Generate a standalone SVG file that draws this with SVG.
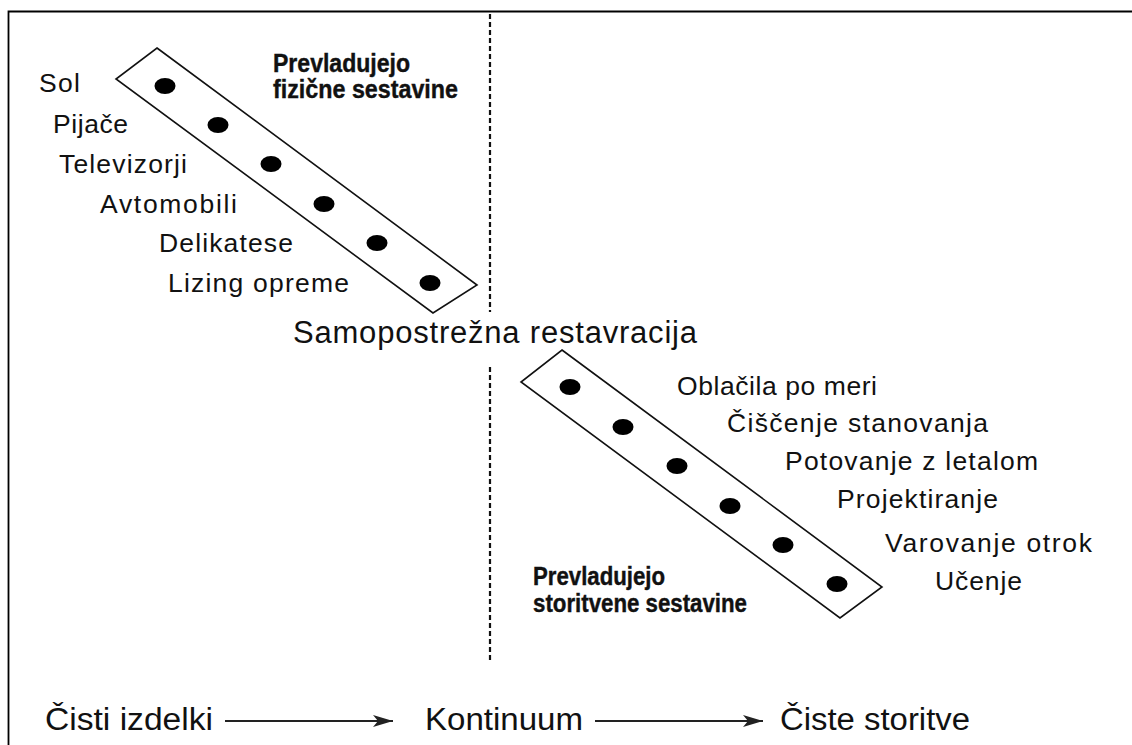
<svg xmlns="http://www.w3.org/2000/svg" width="1132" height="745" viewBox="0 0 1132 745">
<defs>
<style>
.lbl{font-family:"Liberation Sans",Arial,sans-serif;font-size:26.5px;fill:#111}
.big{font-family:"Liberation Sans",Arial,sans-serif;font-size:31px;fill:#111}
.bot{font-family:"Liberation Sans",Arial,sans-serif;font-size:31px;fill:#111}
.bold{font-family:"Liberation Sans",Arial,sans-serif;font-size:25px;font-weight:bold;fill:#111;stroke:#111;stroke-width:0.4}
.band{fill:none;stroke:#111;stroke-width:1.6;stroke-linejoin:miter}
.dot{fill:#000}
.conn{stroke:#222;stroke-width:2.2;fill:none}
.dash{stroke:#111;stroke-width:2.2;stroke-dasharray:5 3;fill:none}
</style>
<marker id="arr" markerUnits="userSpaceOnUse" markerWidth="24" markerHeight="14" refX="20" refY="6" orient="auto">
<path d="M0,0 L20,6 L0,12 L5,6 Z" fill="#222"/>
</marker>
</defs>
<rect width="1132" height="745" fill="#fff"/>
<path d="M8.5,745 V11.5 H1132" fill="none" stroke="#000" stroke-width="1.8"/>

<g id="divider">
<line class="dash" x1="490" y1="14" x2="490" y2="312"/>
<line class="dash" x1="490" y1="367" x2="490" y2="660"/>
</g>

<g id="band-physical">
<polygon class="band" points="157,48 477,285 433,313 116,79"/>
<ellipse class="dot" cx="165" cy="86" rx="10.5" ry="8"/>
<ellipse class="dot" cx="218" cy="125" rx="10.5" ry="8"/>
<ellipse class="dot" cx="271" cy="164" rx="10.5" ry="8"/>
<ellipse class="dot" cx="324" cy="204" rx="10.5" ry="8"/>
<ellipse class="dot" cx="377" cy="243" rx="10.5" ry="8"/>
<ellipse class="dot" cx="430" cy="283" rx="10.5" ry="8"/>
</g>

<g id="band-service">
<polygon class="band" points="562,350 882,587 840,618 521,382"/>
<ellipse class="dot" cx="570" cy="387" rx="10.5" ry="8"/>
<ellipse class="dot" cx="623" cy="427" rx="10.5" ry="8"/>
<ellipse class="dot" cx="677" cy="466" rx="10.5" ry="8"/>
<ellipse class="dot" cx="730" cy="506" rx="10.5" ry="8"/>
<ellipse class="dot" cx="783" cy="545" rx="10.5" ry="8"/>
<ellipse class="dot" cx="837" cy="584" rx="10.5" ry="8"/>
</g>

<g id="labels-physical">
<text class="lbl" x="39" y="92" textLength="41" lengthAdjust="spacing">Sol</text>
<text class="lbl" x="53" y="133" textLength="75" lengthAdjust="spacing">Pijače</text>
<text class="lbl" x="59" y="173" textLength="128" lengthAdjust="spacing">Televizorji</text>
<text class="lbl" x="100" y="213" textLength="137" lengthAdjust="spacing">Avtomobili</text>
<text class="lbl" x="159" y="252" textLength="134" lengthAdjust="spacing">Delikatese</text>
<text class="lbl" x="168" y="292" textLength="181" lengthAdjust="spacing">Lizing opreme</text>
</g>

<g id="note-physical">
<text class="bold" x="273" y="72" textLength="137" lengthAdjust="spacingAndGlyphs">Prevladujejo</text>
<text class="bold" x="273" y="98" textLength="185" lengthAdjust="spacingAndGlyphs">fizične sestavine</text>
</g>

<g id="label-middle">
<text class="big" x="293" y="343" textLength="404" lengthAdjust="spacing">Samopostrežna restavracija</text>
</g>

<g id="labels-service">
<text class="lbl" x="677" y="395" textLength="200" lengthAdjust="spacing">Oblačila po meri</text>
<text class="lbl" x="727" y="432" textLength="261" lengthAdjust="spacing">Čiščenje stanovanja</text>
<text class="lbl" x="785" y="470" textLength="253" lengthAdjust="spacing">Potovanje z letalom</text>
<text class="lbl" x="837" y="508" textLength="161" lengthAdjust="spacing">Projektiranje</text>
<text class="lbl" x="885" y="552" textLength="207" lengthAdjust="spacing">Varovanje otrok</text>
<text class="lbl" x="935" y="590" textLength="87" lengthAdjust="spacing">Učenje</text>
</g>

<g id="note-service">
<text class="bold" x="533" y="585" textLength="132" lengthAdjust="spacingAndGlyphs">Prevladujejo</text>
<text class="bold" x="533" y="612" textLength="214" lengthAdjust="spacingAndGlyphs">storitvene sestavine</text>
</g>

<g id="node-pure-goods">
<text class="bot" x="45" y="730" textLength="168" lengthAdjust="spacingAndGlyphs">Čisti izdelki</text>
</g>
<g id="node-continuum">
<text class="bot" x="425" y="730" textLength="158" lengthAdjust="spacingAndGlyphs">Kontinuum</text>
</g>
<g id="node-pure-services">
<text class="bot" x="780" y="730" textLength="190" lengthAdjust="spacingAndGlyphs">Čiste storitve</text>
</g>

<g id="connectors">
<line class="conn" x1="225" y1="721" x2="393" y2="721" marker-end="url(#arr)"/>
<line class="conn" x1="595" y1="721" x2="763" y2="721" marker-end="url(#arr)"/>
</g>
</svg>
